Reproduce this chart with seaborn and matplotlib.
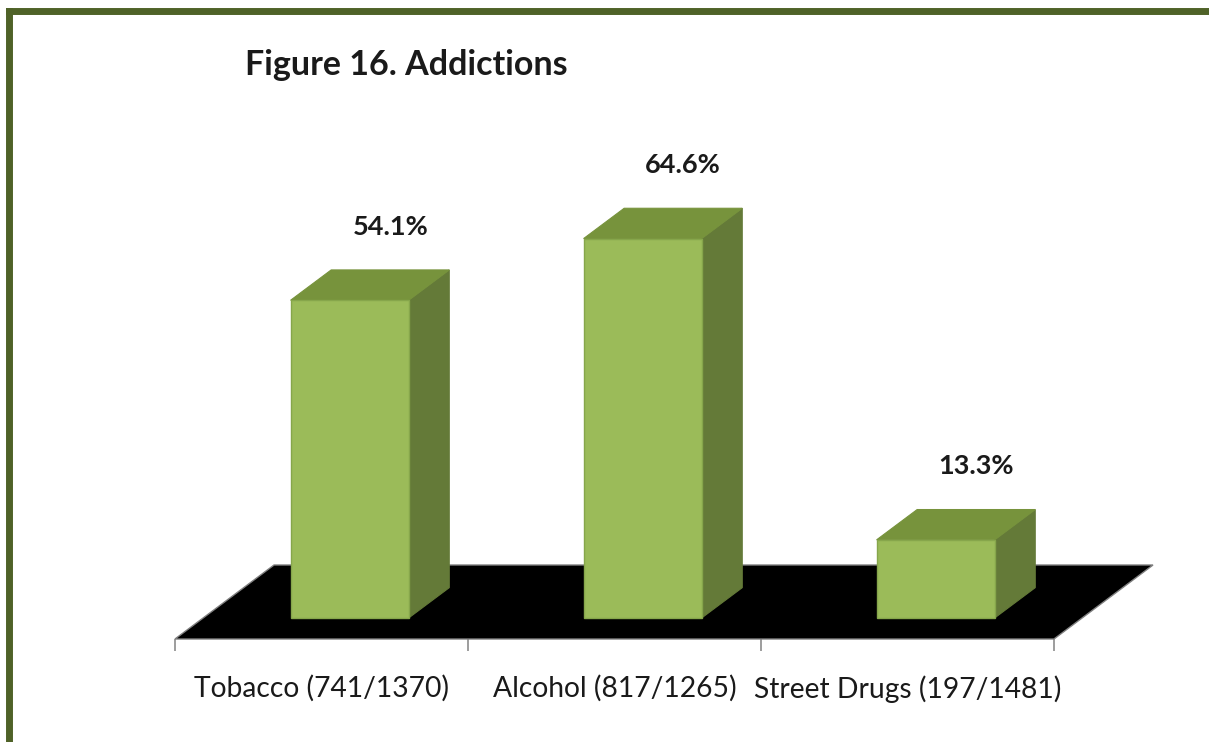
import matplotlib
matplotlib.use("Agg")
import matplotlib.pyplot as plt
import seaborn as sns
import numpy as np
from matplotlib.patches import Polygon
from matplotlib.lines import Line2D

# data
categories = ['Tobacco (741/1370)', 'Alcohol (817/1265)', 'Street Drugs (197/1481)']
values = [54.1, 64.6, 13.3]
value_labels = ['54.1%', '64.6%', '13.3%']

# fake 3d look: oblique projection of the depth axis
DX = 0.338      # x shift (category units) for full floor depth
DY = 12.6       # y shift (percent units) for full floor depth
FRONT = 0.284   # depth of the bar front plane from the floor front
BAR_DEPTH = 0.41

FRONT_C = '#9BBB59'
TOP_C = '#77933C'
SIDE_C = '#647A38'
EDGE_C = '#86A64B'
FRAME_C = '#4F6228'

sns.set_style('white')
plt.rcParams['font.family'] = ['Lato', 'DejaVu Sans']

fig = plt.figure(figsize=(12.09, 7.42), dpi=100)
ax = fig.add_axes([175 / 1209, (742 - 639) / 742, 978 / 1209, (639 - 100) / 742])

sns.barplot(x=categories, y=values, width=0.403, color=FRONT_C,
            edgecolor=EDGE_C, linewidth=1, saturation=1, ax=ax, zorder=3)

x_left = -0.5 - FRONT * DX
x_right = len(categories) - 0.5 + (1 - FRONT) * DX
y_floor = -FRONT * DY
ax.set_xlim(x_left, x_right)
ax.set_ylim(y_floor, 88.2)

# black floor
n = len(categories)
floor = Polygon([(x_left, y_floor), (n - 0.5 - FRONT * DX, y_floor),
                 (x_right, (1 - FRONT) * DY), (-0.5 + (1 - FRONT) * DX, (1 - FRONT) * DY)],
                closed=True, facecolor='black', edgecolor='#7f7f7f', linewidth=1,
                zorder=1, clip_on=False)
ax.add_patch(floor)

bdx = BAR_DEPTH * DX
bdy = BAR_DEPTH * DY
for p, lab in zip(ax.patches[:n], value_labels):
    x0 = p.get_x()
    w = p.get_width()
    h = p.get_height()
    side = Polygon([(x0 + w, 0), (x0 + w + bdx, bdy), (x0 + w + bdx, h + bdy), (x0 + w, h)],
                   closed=True, facecolor=SIDE_C, edgecolor=SIDE_C, linewidth=0.8, zorder=2)
    top = Polygon([(x0, h), (x0 + w, h), (x0 + w + bdx, h + bdy), (x0 + bdx, h + bdy)],
                  closed=True, facecolor=TOP_C, edgecolor=TOP_C, linewidth=0.8, zorder=2)
    ax.add_patch(side)
    ax.add_patch(top)
    ax.annotate(lab, (x0 + w / 2 + bdx, h + bdy), xytext=(0, 31), textcoords='offset points',
                ha='center', va='center', fontsize=19.5, fontweight='bold', color='#1a1a1a')

# category labels centred on the floor front, ticks between categories
ax.set_xticks(np.arange(n) - FRONT * DX)
ax.set_xticklabels(categories, fontsize=20.3, color='#1a1a1a')
ax.set_xticks(np.arange(n + 1) - 0.5 - FRONT * DX, minor=True)
ax.tick_params(axis='x', which='major', length=0, pad=26)
ax.tick_params(axis='x', which='minor', length=8.5, width=1.2, color='#8c8c8c', bottom=True)
ax.set_yticks([])
ax.set_xlabel('')
ax.set_ylabel('')
for s in ax.spines.values():
    s.set_visible(False)

fig.text(245 / 1209, 1 - 65 / 742, 'Figure 16. Addictions', ha='left', va='center',
         fontsize=24.5, fontweight='bold', color='#1a1a1a')

# green frame, cut off on the right and bottom
fig.add_artist(Line2D([8.5 / 1209, 8.5 / 1209], [0, 1 - 10.5 / 742], color=FRAME_C,
                      linewidth=5, solid_capstyle='projecting'))
fig.add_artist(Line2D([8.5 / 1209, 1], [1 - 10.5 / 742, 1 - 10.5 / 742], color=FRAME_C,
                      linewidth=5, solid_capstyle='projecting'))

fig.savefig('out.png', dpi=100)
